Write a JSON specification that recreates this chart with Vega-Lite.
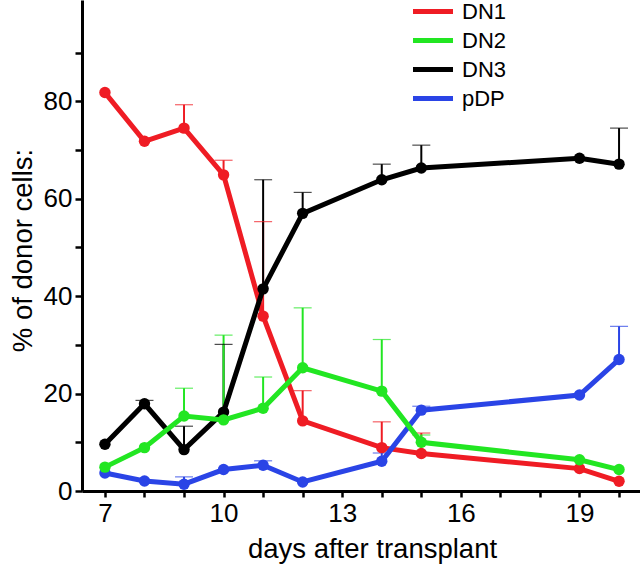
{
  "$schema": "https://vega.github.io/schema/vega-lite/v6.json",
  "width": 558,
  "height": 491,
  "autosize": "none",
  "padding": {"left": 82, "top": 0, "right": 0, "bottom": 73},
  "config": {
    "font": "Liberation Sans",
    "view": {"stroke": null},
    "axis": {
      "grid": false,
      "domainColor": "black",
      "domainWidth": 3,
      "tickColor": "black",
      "tickWidth": 2.5,
      "labelColor": "black",
      "labelFontSize": 26,
      "titleColor": "black",
      "titleFontSize": 27.5,
      "titleFontWeight": "normal"
    }
  },
  "data": {
    "values": [
      {"day": 7, "series": "DN1", "value": 81.8, "err": null},
      {"day": 8, "series": "DN1", "value": 71.8, "err": null},
      {"day": 9, "series": "DN1", "value": 74.5, "err": 79.3},
      {"day": 10, "series": "DN1", "value": 64.9, "err": 67.9},
      {"day": 11, "series": "DN1", "value": 35.9, "err": 55.3},
      {"day": 12, "series": "DN1", "value": 14.4, "err": 20.6},
      {"day": 14, "series": "DN1", "value": 8.9, "err": 14.2},
      {"day": 15, "series": "DN1", "value": 7.7, "err": 11.9},
      {"day": 19, "series": "DN1", "value": 4.6, "err": null},
      {"day": 20, "series": "DN1", "value": 2.0, "err": null},
      {"day": 7, "series": "pDP", "value": 3.7, "err": null},
      {"day": 8, "series": "pDP", "value": 2.05, "err": null},
      {"day": 9, "series": "pDP", "value": 1.4, "err": 2.9},
      {"day": 10, "series": "pDP", "value": 4.4, "err": null},
      {"day": 11, "series": "pDP", "value": 5.3, "err": 6.2},
      {"day": 12, "series": "pDP", "value": 1.85, "err": null},
      {"day": 14, "series": "pDP", "value": 6.1, "err": 7.8},
      {"day": 15, "series": "pDP", "value": 16.6, "err": 17.4},
      {"day": 19, "series": "pDP", "value": 19.7, "err": null},
      {"day": 20, "series": "pDP", "value": 27.0, "err": 33.8},
      {"day": 7, "series": "DN3", "value": 9.6, "err": null},
      {"day": 8, "series": "DN3", "value": 17.9, "err": 18.6},
      {"day": 9, "series": "DN3", "value": 8.5, "err": 13.3},
      {"day": 10, "series": "DN3", "value": 16.2, "err": 30.1},
      {"day": 11, "series": "DN3", "value": 41.5, "err": 63.9},
      {"day": 12, "series": "DN3", "value": 57.0, "err": 61.3},
      {"day": 14, "series": "DN3", "value": 63.9, "err": 67.1},
      {"day": 15, "series": "DN3", "value": 66.3, "err": 71.0},
      {"day": 19, "series": "DN3", "value": 68.3, "err": null},
      {"day": 20, "series": "DN3", "value": 67.1, "err": 74.5},
      {"day": 7, "series": "DN2", "value": 4.9, "err": null},
      {"day": 8, "series": "DN2", "value": 8.9, "err": null},
      {"day": 9, "series": "DN2", "value": 15.4, "err": 21.1},
      {"day": 10, "series": "DN2", "value": 14.6, "err": 32.0},
      {"day": 11, "series": "DN2", "value": 17.0, "err": 23.4},
      {"day": 12, "series": "DN2", "value": 25.3, "err": 37.6},
      {"day": 14, "series": "DN2", "value": 20.5, "err": 31.1},
      {"day": 15, "series": "DN2", "value": 10.0, "err": 11.5},
      {"day": 19, "series": "DN2", "value": 6.4, "err": null},
      {"day": 20, "series": "DN2", "value": 4.4, "err": null}
    ]
  },
  "encoding": {
    "x": {
      "field": "day",
      "type": "quantitative",
      "scale": {"domain": [6.42, 20.53], "nice": false, "zero": false},
      "axis": {
        "values": [7, 8, 9, 10, 11, 12, 13, 14, 15, 16, 17, 18, 19, 20],
        "labelExpr": "(datum.value - 7) % 3 == 0 ? datum.label : ''",
        "tickSize": 6,
        "labelPadding": 3,
        "title": "days after transplant",
        "titleX": 290,
        "titleY": 66,
        "titleBaseline": "alphabetic"
      }
    }
  },
  "layer": [
    {
      "transform": [{"filter": "datum.err != null"}],
      "mark": {"type": "rule", "strokeWidth": 2},
      "encoding": {
        "y": {"field": "value", "type": "quantitative"},
        "y2": {"field": "err"},
        "color": {"field": "series", "type": "nominal"}
      }
    },
    {
      "transform": [{"filter": "datum.err != null"}],
      "mark": {"type": "tick", "orient": "horizontal", "size": 18, "thickness": 1.2},
      "encoding": {
        "y": {"field": "err", "type": "quantitative"},
        "color": {"field": "series", "type": "nominal"}
      }
    },
    {
      "mark": {"type": "line", "strokeWidth": 5},
      "encoding": {
        "y": {
          "field": "value",
          "type": "quantitative",
          "scale": {"domain": [0, 100.8], "nice": false},
          "axis": {
            "values": [0, 10, 20, 30, 40, 50, 60, 70, 80, 90],
            "labelExpr": "datum.value % 20 == 0 ? datum.label : ''",
            "tickSize": 7,
            "labelPadding": 3,
            "title": "% of donor cells:",
            "titleX": -51,
            "titleY": 250,
            "titleBaseline": "alphabetic"
          }
        },
        "color": {
          "field": "series",
          "type": "nominal",
          "scale": {
            "domain": ["DN1", "DN2", "DN3", "pDP"],
            "range": ["#ef1c24", "#22e622", "#000000", "#2a44e6"]
          },
          "legend": {
            "orient": "none",
            "legendX": 338.5,
            "legendY": -1,
            "title": null,
            "padding": 0,
            "symbolType": "M-2,0H2",
            "symbolSize": 400,
            "symbolStrokeWidth": 5,
            "symbolOpacity": 1,
            "labelFontSize": 22,
            "labelColor": "black",
            "labelOffset": 16.5,
            "rowPadding": 5,
            "encode": {
              "symbols": {
                "update": {
                  "opacity": {"value": 1},
                  "strokeOpacity": {"value": 1}
                }
              }
            }
          }
        }
      }
    },
    {
      "mark": {"type": "point", "filled": true, "size": 130, "opacity": 1},
      "encoding": {
        "y": {"field": "value", "type": "quantitative"},
        "color": {"field": "series", "type": "nominal"}
      }
    }
  ]
}
